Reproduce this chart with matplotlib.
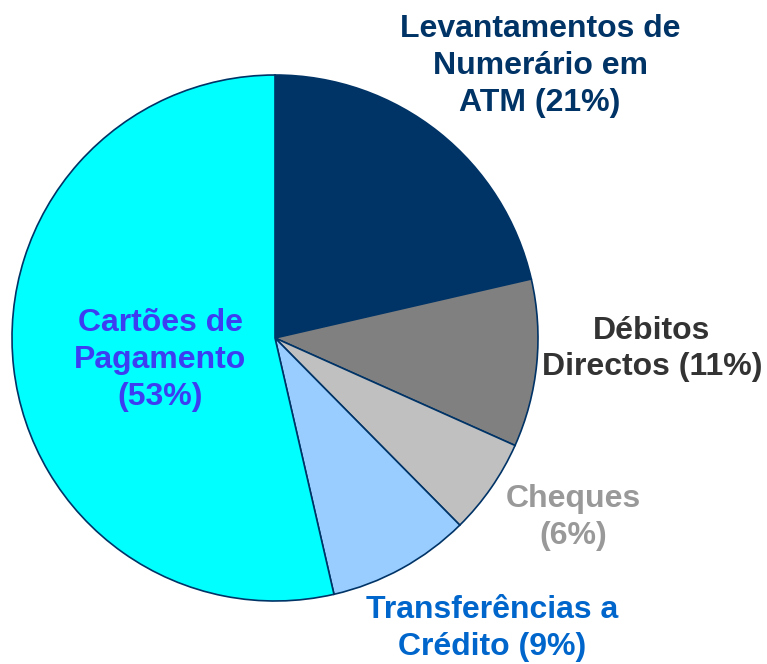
import matplotlib.pyplot as plt

labels = ["Levantamentos de\nNumerário em\nATM (21%)", "Débitos\nDirectos (11%)", "Cheques\n(6%)",
          "Transferências a\nCrédito (9%)", "Cartões de\nPagamento\n(53%)"]
values = [21.4, 10.3, 5.9, 8.8, 53.6]
colors = ["#003366", "#808080", "#C0C0C0", "#99CCFF", "#00FFFF"]
text_colors = ["#003366", "#333333", "#999999", "#0066CC", "#3D3DF2"]
# label anchor positions in units of the pie radius
label_pos = [(1.008, 1.034), (1.433, -0.042), (1.133, -0.681), (0.825, -1.103), (-0.437, -0.084)]

W, H = 767, 664
cx, cy, r = 275, 338, 263

fig = plt.figure(figsize=(W / 100, H / 100), dpi=100)
ax = fig.add_axes([(cx - r) / W, (H - cy - r) / H, 2 * r / W, 2 * r / H])
ax.pie(values, colors=colors, startangle=90, counterclock=False, radius=1,
       wedgeprops=dict(edgecolor="#003366", linewidth=1.2))
ax.set_xlim(-1, 1)
ax.set_ylim(-1, 1)
ax.set_aspect("equal")
ax.axis("off")

for lab, (x, y), c in zip(labels, label_pos, text_colors):
    ax.text(x, y, lab, ha="center", va="center", color=c, fontsize=23,
            fontweight="bold", family="Liberation Sans", linespacing=1.3, clip_on=False)

fig.savefig("out.png", dpi=100)
